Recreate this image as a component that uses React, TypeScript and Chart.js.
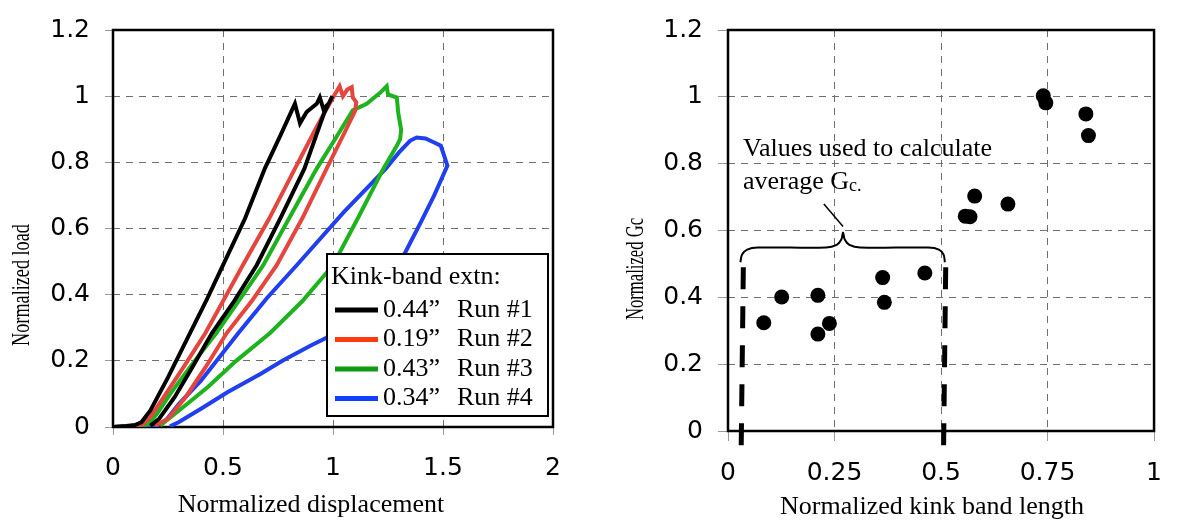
import React, { useEffect, useRef } from "react";
import { Chart, registerables } from "chart.js";
Chart.register(...registerables);

const SERIF = '"Liberation Serif", "Times New Roman", serif';
const SANS = '"DejaVu Sans", Verdana, sans-serif';

// ---------- Left chart: load vs displacement ----------
const dispTicks = [0, 0.5, 1, 1.5, 2];
const loadTicks = [0, 0.2, 0.4, 0.6, 0.8, 1, 1.2];
const legendTitle = "Kink-band extn:";
const runNames = ["Run #1", "Run #2", "Run #3", "Run #4"];
const kinkExtensions = ["0.44\u201D", "0.19\u201D", "0.43\u201D", "0.34\u201D"];
const runColors = ["#000000", "#e6453d", "#1db31d", "#1f3ff0"];
const legendColors = ["#000000", "#ff3a10", "#109a10", "#1040ff"];

const run1Disp = [0, 0.06, 0.1, 0.13, 0.17, 0.25, 0.35, 0.43, 0.5, 0.6, 0.69, 0.76, 0.827, 0.85, 0.88, 0.926, 0.94, 0.956, 0.98, 0.997, 0.96, 0.87, 0.76, 0.653, 0.55, 0.45, 0.36, 0.28, 0.21, 0.17];
const run1Load = [0, 0.003, 0.006, 0.015, 0.05, 0.15, 0.284, 0.39, 0.489, 0.63, 0.781, 0.88, 0.977, 0.918, 0.952, 0.977, 0.996, 0.962, 0.977, 1.0, 0.95, 0.781, 0.63, 0.489, 0.38, 0.284, 0.18, 0.09, 0.025, 0.004];

const run2Disp = [0, 0.08, 0.136, 0.17, 0.22, 0.32, 0.42, 0.5, 0.59, 0.71, 0.827, 0.92, 1.0, 1.03, 1.045, 1.065, 1.085, 1.09, 1.106, 1.1, 1.06, 0.971, 0.86, 0.744, 0.63, 0.517, 0.42, 0.33, 0.25, 0.19];
const run2Load = [0, 0.003, 0.008, 0.03, 0.08, 0.18, 0.284, 0.38, 0.489, 0.63, 0.781, 0.9, 0.996, 1.03, 1.0, 1.02, 1.027, 0.996, 0.981, 0.955, 0.9, 0.781, 0.63, 0.489, 0.38, 0.284, 0.18, 0.09, 0.025, 0.004];

const run3Disp = [0, 0.1, 0.16, 0.2, 0.26, 0.36, 0.47, 0.57, 0.683, 0.8, 0.926, 1.0, 1.09, 1.153, 1.214, 1.244, 1.25, 1.29, 1.297, 1.31, 1.305, 1.29, 1.229, 1.12, 1.0, 0.86, 0.714, 0.56, 0.43, 0.31, 0.214];
const run3Load = [0, 0.003, 0.008, 0.04, 0.1, 0.19, 0.284, 0.38, 0.489, 0.63, 0.781, 0.86, 0.957, 0.977, 1.01, 1.03, 1.005, 0.996, 0.947, 0.898, 0.87, 0.85, 0.781, 0.64, 0.489, 0.38, 0.284, 0.2, 0.12, 0.055, 0.004];

const run4Disp = [0, 0.12, 0.2, 0.24, 0.3, 0.4, 0.57, 0.7, 0.835, 1.05, 1.24, 1.3, 1.35, 1.38, 1.42, 1.46, 1.49, 1.505, 1.52, 1.49, 1.46, 1.4, 1.33, 1.25, 1.12, 0.97, 0.895, 0.77, 0.67, 0.52, 0.4, 0.3, 0.259];
const run4Load = [0, 0.002, 0.004, 0.02, 0.07, 0.14, 0.284, 0.39, 0.489, 0.65, 0.781, 0.83, 0.865, 0.875, 0.872, 0.86, 0.85, 0.82, 0.79, 0.745, 0.7, 0.62, 0.53, 0.44, 0.34, 0.27, 0.245, 0.2, 0.16, 0.105, 0.055, 0.015, 0.002];

const runDisp = [run1Disp, run2Disp, run3Disp, run4Disp];
const runLoad = [run1Load, run2Load, run3Load, run4Load];

// ---------- Right chart: Gc vs kink band length ----------
const kinkTicks = [0, 0.25, 0.5, 0.75, 1];
const gcTicks = [0, 0.2, 0.4, 0.6, 0.8, 1, 1.2];
const kinkLength = [0.084, 0.126, 0.211, 0.211, 0.238, 0.363, 0.367, 0.462, 0.557, 0.568, 0.579, 0.657, 0.74, 0.746, 0.84, 0.846];
const normGc = [0.324, 0.401, 0.406, 0.29, 0.322, 0.459, 0.385, 0.473, 0.643, 0.641, 0.703, 0.679, 1.003, 0.982, 0.949, 0.884];
const limitLowX = [0.036, 0.031];
const limitHighX = [0.511, 0.506];
const limitY = [0.49, -0.046];
const braceX = [0.029, 0.033, 0.045, 0.07, 0.23, 0.255, 0.266, 0.27, 0.274, 0.285, 0.31, 0.47, 0.495, 0.506, 0.509];
const braceY = [0.505, 0.528, 0.543, 0.549, 0.549, 0.557, 0.573, 0.594, 0.573, 0.557, 0.549, 0.549, 0.543, 0.528, 0.505];
const leaderX = [0.27, 0.225];
const leaderY = [0.612, 0.679];
const noteLine1 = "Values used to calculate";
const noteLine2 = "average G";
const noteSub = "c.";

const pts = (xs: number[], ys: number[]) => xs.map((x, i) => ({ x, y: ys[i] }));

function axis(tickValues: number[], min: number, max: number, size: number, horizontal: boolean, tickLen: number, pad: number) {
  return {
    type: "linear",
    min,
    max,
    afterBuildTicks: (s: any) => {
      s.ticks = tickValues.map((v) => ({ value: v }));
    },
    afterFit: (s: any) => {
      if (horizontal) s.height = size;
      else s.width = size;
    },
    grid: {
      color: "#707070",
      lineWidth: 1,
      tickBorderDash: [],
      tickColor: "#9a9a9a",
      tickLength: tickLen,
      drawTicks: true,
    },
    border: { display: false, dash: [7, 6] },
    ticks: {
      color: "#000",
      font: { family: SANS, size: 25 },
      padding: pad,
      maxRotation: 0,
      autoSkip: false,
      callback: (v: any) => String(v),
    },
  };
}

const decorPlugin = {
  id: "decor",
  beforeDatasetsDraw(chart: any) {
    const { ctx, chartArea: a } = chart;
    ctx.save();
    ctx.strokeStyle = "#000";
    ctx.lineWidth = 2.5;
    ctx.strokeRect(a.left, a.top, a.right - a.left, a.bottom - a.top);
    ctx.restore();
  },
  afterDatasetsDraw(chart: any, _args: any, opts: any) {
    const { ctx } = chart;
    if (opts.legend) {
      const L = opts.legend;
      ctx.save();
      ctx.fillStyle = "#fff";
      ctx.fillRect(L.x, L.y, L.w, L.h);
      ctx.strokeStyle = "#000";
      ctx.lineWidth = 2;
      ctx.strokeRect(L.x, L.y, L.w, L.h);
      ctx.fillStyle = "#000";
      ctx.font = `26px ${SERIF}`;
      ctx.textBaseline = "middle";
      ctx.textAlign = "left";
      ctx.fillText(L.title, L.x + 4, L.y + 23);
      L.rows.forEach((r: any, i: number) => {
        const y = L.y + 56 + i * 29.5;
        ctx.strokeStyle = r.color;
        ctx.lineWidth = 5;
        ctx.beginPath();
        ctx.moveTo(L.x + 8, y);
        ctx.lineTo(L.x + 51, y);
        ctx.stroke();
        ctx.fillStyle = "#000";
        ctx.fillText(r.ext, L.x + 56, y);
        ctx.fillText(r.run, L.x + 130, y);
      });
      ctx.restore();
    }
  },
  afterDraw(chart: any, _args: any, opts: any) {
    const { ctx } = chart;
    ctx.save();
    ctx.fillStyle = "#000";
    if (opts.xTitle) {
      const t = opts.xTitle;
      ctx.font = `26px ${SERIF}`;
      ctx.textAlign = "center";
      ctx.textBaseline = "alphabetic";
      ctx.fillText(t.text, t.cx, t.baseline);
    }
    if (opts.yTitle) {
      const t = opts.yTitle;
      ctx.save();
      ctx.translate(t.cx, t.cy);
      ctx.rotate(-Math.PI / 2);
      ctx.scale(t.squeeze, 1);
      ctx.font = `26px ${SERIF}`;
      ctx.textAlign = "center";
      ctx.textBaseline = "middle";
      ctx.fillText(t.text, 0, 0);
      ctx.restore();
    }
    if (opts.note) {
      const n = opts.note;
      ctx.textAlign = "left";
      ctx.textBaseline = "alphabetic";
      ctx.font = `26px ${SERIF}`;
      ctx.fillText(n.line1, n.x, n.y1);
      ctx.fillText(n.line2, n.x, n.y2);
      const w = ctx.measureText(n.line2).width;
      ctx.font = `18px ${SERIF}`;
      ctx.fillText(n.sub, n.x + w, n.y2 + 2);
    }
    ctx.restore();
  },
};

function leftConfig(): any {
  return {
    type: "scatter",
    data: {
      datasets: runDisp.map((d, i) => ({
        label: `${kinkExtensions[i]} ${runNames[i]}`,
        data: pts(d, runLoad[i]),
        showLine: true,
        borderColor: runColors[i],
        borderWidth: 4,
        pointRadius: 0,
        tension: 0,
      })),
    },
    options: {
      responsive: false,
      animation: false,
      layout: { padding: { left: 0, right: 37, top: 17, bottom: 0 } },
      scales: {
        x: axis(dispTicks, 0, 2, 95, true, 8, 18),
        y: axis(loadTicks, 0, 1.2, 113, false, 8, 15),
      },
      plugins: {
        legend: { display: false },
        tooltip: { enabled: false },
        decor: {
          xTitle: { text: "Normalized displacement", cx: 311, baseline: 512 },
          yTitle: { text: "Normalized load", cx: 22, cy: 285, squeeze: 0.7 },
          legend: {
            x: 327,
            y: 254,
            w: 221,
            h: 162,
            title: legendTitle,
            rows: runNames.map((r, i) => ({ run: r, ext: kinkExtensions[i], color: legendColors[i] })),
          },
        },
      },
    },
    plugins: [decorPlugin],
  };
}

function rightConfig(): any {
  const lineDs = (xs: number[], ys: number[], width: number, dash: number[], tension: number) => ({
    data: pts(xs, ys),
    showLine: true,
    borderColor: "#000",
    borderWidth: width,
    borderDash: dash,
    pointRadius: 0,
    tension,
    clip: false,
  });
  return {
    type: "scatter",
    data: {
      datasets: [
        {
          label: "Normalized Gc",
          data: pts(kinkLength, normGc),
          backgroundColor: "#000",
          borderWidth: 0,
          pointRadius: 7.5,
        },
        lineDs(limitLowX, limitY, 5, [22, 17], 0),
        lineDs(limitHighX, limitY, 5, [22, 17], 0),
        lineDs(braceX, braceY, 2, [], 0.35),
        lineDs(leaderX, leaderY, 1.5, [], 0),
      ],
    },
    options: {
      responsive: false,
      animation: false,
      layout: { padding: { left: 0, right: 12, top: 17, bottom: 0 } },
      scales: {
        x: axis(kinkTicks, 0, 1, 91, true, 10, 17),
        y: axis(gcTicks, 0, 1.2, 138, false, 10, 15),
      },
      plugins: {
        legend: { display: false },
        tooltip: { enabled: false },
        decor: {
          xTitle: { text: "Normalized kink band length", cx: 342, baseline: 514 },
          yTitle: { text: "Normalized Gc", cx: 46, cy: 269, squeeze: 0.64 },
          note: { line1: noteLine1, line2: noteLine2, sub: noteSub, x: 153, y1: 156, y2: 189 },
        },
      },
    },
    plugins: [decorPlugin],
  };
}

function ChartCanvas({ make, left, width }: { make: () => any; left: number; width: number }) {
  const ref = useRef<HTMLCanvasElement | null>(null);
  useEffect(() => {
    const chart = new Chart(ref.current as HTMLCanvasElement, make());
    return () => chart.destroy();
  }, []);
  return (
    <canvas
      ref={ref}
      width={width}
      height={522}
      style={{ position: "absolute", left, top: 0, width, height: 522, display: "block" }}
    />
  );
}

export default function App() {
  return (
    <div style={{ position: "absolute", left: 0, top: 0, width: 1179, height: 522, background: "#fff", overflow: "hidden" }}>
      <ChartCanvas make={leftConfig} left={0} width={590} />
      <ChartCanvas make={rightConfig} left={590} width={589} />
    </div>
  );
}
